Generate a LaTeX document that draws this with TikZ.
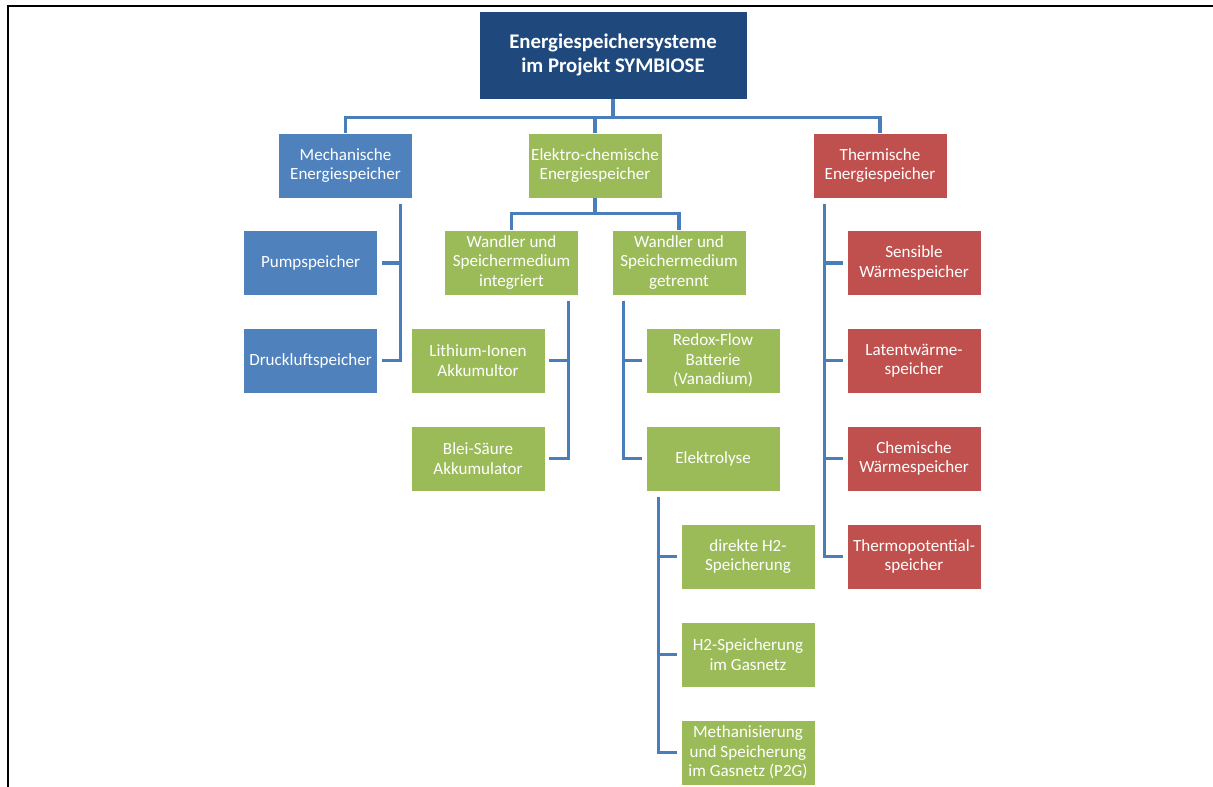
\documentclass[tikz,border=0pt]{standalone}
\usepackage{fontspec}
\setmainfont{Carlito}
\definecolor{topblue}{RGB}{31,73,125}
\definecolor{mblue}{RGB}{79,129,189}
\definecolor{mgreen}{RGB}{155,187,89}
\definecolor{mred}{RGB}{192,80,77}
\definecolor{conncol}{RGB}{74,126,187}
\tikzset{
  bx/.style={rectangle, draw=white!75!black!0, line width=0.4pt, inner sep=0pt, align=center, text=white,
    minimum width=100.5pt, minimum height=48.75pt, font=\fontsize{12.8}{14.6}\selectfont},
  bb/.style={bx, fill=mblue},
  bg/.style={bx, fill=mgreen},
  br/.style={bx, fill=mred},
  conn/.style={draw=conncol, line width=2.3pt},
}
\begin{document}
\begin{tikzpicture}[x=0.75pt,y=-0.75pt]
\useasboundingbox (0,0) rectangle (1213,787);
\draw[black, line width=1.6pt] (1213,6) -- (8,6) -- (8,787);

\node[bx, fill=topblue, minimum width=201pt, minimum height=66pt, font=\fontsize{15.6}{17.4}\selectfont\bfseries] (top) at (613,55) {Energiespeichersysteme\\im Projekt SYMBIOSE};

\node[bb] (mech) at (345.5,165.5) {Mechanische\\Energiespeicher};
\node[bg] (elek) at (595,165.5) {Elektro-chemische\\Energiespeicher};
\node[br] (therm) at (880,165.5) {Thermische\\Energiespeicher};

\node[bg] (wint) at (511.5,262.5) {Wandler und\\Speichermedium\\integriert};
\node[bg] (wget) at (679,262.5) {Wandler und\\Speichermedium\\getrennt};

\node[bb] (pump) at (310.5,263) {Pumpspeicher};
\node[bb] (druck) at (310.5,360.5) {Druckluftspeicher};

\node[bg] (lith) at (478,360.5) {Lithium-Ionen\\Akkumultor};
\node[bg] (blei) at (478,458.5) {Blei-Säure\\Akkumulator};

\node[bg] (redox) at (713,360.5) {Redox-Flow\\Batterie\\(Vanadium)};
\node[bg] (elyse) at (713,458.5) {Elektrolyse};

\node[bg] (direkt) at (748,556.5) {direkte H2-\\Speicherung};
\node[bg] (h2gas) at (748,654.5) {H2-Speicherung\\im Gasnetz};
\node[bg] (meth) at (748,752.5) {Methanisierung\\und Speicherung\\im Gasnetz (P2G)};

\node[br] (sens) at (914,263) {Sensible\\Wärmespeicher};
\node[br] (latent) at (914,360.5) {Latentwärme-\\speicher};
\node[br] (chem) at (914,458.5) {Chemische\\Wärmespeicher};
\node[br] (thermo) at (914,556.5) {Thermopotential-\\speicher};

% top level bus
\draw[conn] (top.south) -- ++(0,18) coordinate (b1);
\draw[conn] (mech.north) |- (b1);
\draw[conn] (therm.north) |- (b1);
\draw[conn] (elek.north) -- (elek.north |- b1);

% elektro bus
\draw[conn] (elek.south) -- ++(0,15) coordinate (e1);
\draw[conn] (wint.north) |- (e1);
\draw[conn] (wget.north) |- (e1);

% mechanische children
\coordinate (m1) at ([xshift=-9pt,yshift=-4pt]mech.south east);
\draw[conn] (m1) |- ([xshift=3pt]druck.east);
\draw[conn] ([xshift=3pt]pump.east) -- (pump.east -| m1);

% integriert children
\coordinate (i1) at ([xshift=-7.5pt,yshift=-4pt]wint.south east);
\draw[conn] (i1) |- ([xshift=3pt]blei.east);
\draw[conn] ([xshift=3pt]lith.east) -- (lith.east -| i1);

% getrennt children
\coordinate (g1) at ([xshift=9pt,yshift=-4pt]wget.south west);
\draw[conn] (g1) |- ([xshift=-3pt]elyse.west);
\draw[conn] ([xshift=-3pt]redox.west) -- (redox.west -| g1);

% elektrolyse children
\coordinate (l1) at ([xshift=9.75pt,yshift=-4pt]elyse.south west);
\draw[conn] (l1) |- ([xshift=-3pt]meth.west);
\draw[conn] ([xshift=-3pt]direkt.west) -- (direkt.west -| l1);
\draw[conn] ([xshift=-3pt]h2gas.west) -- (h2gas.west -| l1);

% thermische children
\coordinate (t1) at ([xshift=9pt,yshift=-4pt]therm.south west);
\draw[conn] (t1) |- ([xshift=-3pt]thermo.west);
\draw[conn] ([xshift=-3pt]sens.west) -- (sens.west -| t1);
\draw[conn] ([xshift=-3pt]latent.west) -- (latent.west -| t1);
\draw[conn] ([xshift=-3pt]chem.west) -- (chem.west -| t1);
\end{tikzpicture}
\end{document}
